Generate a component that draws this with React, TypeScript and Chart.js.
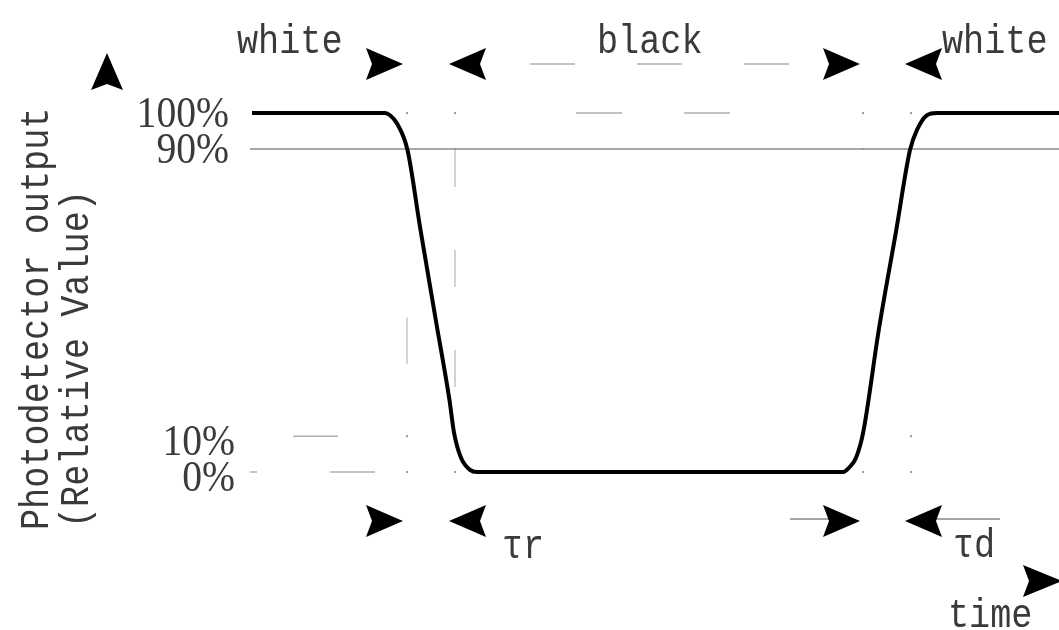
import React, { useEffect, useRef } from 'react';
import { Chart, registerables } from 'chart.js';

Chart.register(...registerables);

// time (arbitrary units) and photodetector output (% of white level)
const times = [0, 13.3, 13.8, 14.5, 15.55, 16.8, 18.4, 19.75, 20.2, 20.9, 21.8, 22.5, 59.1, 59.8, 60.4, 61.1, 62.7, 64.4, 65.8, 66.5, 67.5, 68.5, 80.7];
const output = [100, 100, 99.4, 97.1, 89.7, 68.3, 42, 20, 11, 4, 0.6, 0, 0, 1.5, 4, 10.8, 40, 67, 89.7, 95.3, 99.4, 100, 100];

const levelTicks = [100, 90, 10, 0];
const levelLabels = ['100%', '90%', '10%', '0%'];
const guideTimes = [15.5, 20.3, 61.1, 65.9];
const phaseLabels = ['white', 'black', 'white'];
const responseLabels = ['τr', 'τd'];
const axisTitle = ['Photodetector output', '(Relative Value)'];
const timeLabel = 'time';

const MONO = '40px "Liberation Mono", "DejaVu Sans Mono", monospace';
const SERIF = '44px "Liberation Serif", "DejaVu Serif", serif';
const TXT = '#3a3a3a';

function txt(ctx: CanvasRenderingContext2D, s: string, x: number, y: number, font: string, sx: number, align: CanvasTextAlign = 'left') {
  ctx.save();
  ctx.font = font;
  ctx.fillStyle = TXT;
  ctx.textAlign = align;
  ctx.textBaseline = 'alphabetic';
  ctx.translate(x, y);
  ctx.scale(sx, 1);
  ctx.fillText(s, 0, 0);
  ctx.restore();
}

function arrow(ctx: CanvasRenderingContext2D, tx: number, ty: number, angle: number, len = 37, half = 16) {
  ctx.save();
  ctx.translate(tx, ty);
  ctx.rotate(angle);
  ctx.beginPath();
  ctx.moveTo(0, 0);
  ctx.lineTo(-len, -half);
  ctx.lineTo(-len + 6, 0);
  ctx.lineTo(-len, half);
  ctx.closePath();
  ctx.fillStyle = '#000';
  ctx.fill();
  ctx.restore();
}

function hline(ctx: CanvasRenderingContext2D, x1: number, x2: number, y: number, color: string, w: number, dash: number[] = []) {
  ctx.save();
  ctx.strokeStyle = color;
  ctx.lineWidth = w;
  ctx.setLineDash(dash);
  ctx.beginPath();
  ctx.moveTo(x1, y);
  ctx.lineTo(x2, y);
  ctx.stroke();
  ctx.restore();
}

function vline(ctx: CanvasRenderingContext2D, x: number, y1: number, y2: number, color: string, w: number, dash: number[] = []) {
  ctx.save();
  ctx.strokeStyle = color;
  ctx.lineWidth = w;
  ctx.setLineDash(dash);
  ctx.beginPath();
  ctx.moveTo(x, y1);
  ctx.lineTo(x, y2);
  ctx.stroke();
  ctx.restore();
}

const diagramPlugin = {
  id: 'responseDiagram',
  beforeDatasetsDraw(chart: any) {
    const ctx: CanvasRenderingContext2D = chart.ctx;
    const xs = chart.scales.x;
    const ys = chart.scales.y;
    const x0 = xs.getPixelForValue(times[0]);
    const xEnd = chart.width;
    const g = guideTimes.map((t) => xs.getPixelForValue(t));
    const yp = (v: number) => ys.getPixelForValue(v);

    // 90% reference line
    hline(ctx, x0 - 2, xEnd, yp(90), '#8a8a8a', 1.5);

    // faint dashed guides
    vline(ctx, g[1], yp(90) + 1, yp(10), '#c4c4c4', 1.5, [37, 63]);
    vline(ctx, g[0], yp(43), yp(10), '#c4c4c4', 1.5, [46, 200]);
    hline(ctx, x0 + 41, g[0], yp(10), '#b0b0b0', 1.5, [45, 200]);
    hline(ctx, x0 - 2, g[0], yp(0), '#b0b0b0', 1.5, [7, 73, 45, 200]);
    hline(ctx, xs.getPixelForValue(32.4), xs.getPixelForValue(52.6), yp(100), '#b0b0b0', 1.5, [46, 62]);

    // guide dots
    ctx.save();
    ctx.fillStyle = '#999';
    g.forEach((gx) => {
      [100, 90, 10, 0].forEach((v) => {
        ctx.fillRect(gx - 1, yp(v) - 1, 2, 2);
      });
    });
    ctx.restore();
  },
  afterDatasetsDraw(chart: any) {
    const ctx: CanvasRenderingContext2D = chart.ctx;
    const xs = chart.scales.x;
    const ys = chart.scales.y;
    const x0 = xs.getPixelForValue(times[0]);
    const g = guideTimes.map((t) => xs.getPixelForValue(t));
    const yp = (v: number) => ys.getPixelForValue(v);

    // level tick labels
    levelTicks.forEach((v, i) => {
      const low = v < 50;
      txt(ctx, levelLabels[i], x0 - 23 + (low ? 6 : 0), yp(v) + 14 + (low ? 5 : 0), SERIF, 0.9, 'right');
    });

    // y axis arrow and title
    arrow(ctx, 107, 53, -Math.PI / 2, 37, 16);
    ctx.save();
    ctx.font = MONO;
    ctx.fillStyle = TXT;
    ctx.textBaseline = 'alphabetic';
    ctx.textAlign = 'left';
    ctx.translate(48, 530);
    ctx.rotate(-Math.PI / 2);
    ctx.scale(0.88, 1);
    ctx.fillText(axisTitle[0], 0, 0);
    ctx.restore();
    ctx.save();
    ctx.font = MONO;
    ctx.fillStyle = TXT;
    ctx.textBaseline = 'alphabetic';
    ctx.textAlign = 'left';
    ctx.translate(88, 528);
    ctx.rotate(-Math.PI / 2);
    ctx.scale(0.88, 1);
    ctx.fillText(axisTitle[1], 0, 0);
    ctx.restore();

    // top phase labels & arrows
    const topY = 64;
    txt(ctx, phaseLabels[0], x0 - 15, 53, MONO, 0.88);
    txt(ctx, phaseLabels[1], (g[1] + g[2]) / 2 - 62, 53, MONO, 0.88);
    txt(ctx, phaseLabels[2], g[3] + 31, 53, MONO, 0.88);
    hline(ctx, g[1] + 75, g[2] - 40, topY, '#b0b0b0', 1.5, [45, 62]);
    arrow(ctx, g[0] - 4, topY, 0);
    arrow(ctx, g[1] - 6, topY, Math.PI);
    arrow(ctx, g[2] - 3, topY, 0);
    arrow(ctx, g[3] - 6, topY, Math.PI);

    // bottom response-time arrows
    const botY = 521;
    hline(ctx, g[2] - 73, g[2] - 30, botY - 2, '#888', 1.5);
    hline(ctx, g[3] + 25, g[3] + 89, botY - 2, '#888', 1.5);
    arrow(ctx, g[0] - 4, botY, 0);
    arrow(ctx, g[1] - 6, botY, Math.PI);
    arrow(ctx, g[2] - 3, botY, 0);
    arrow(ctx, g[3] - 6, botY, Math.PI);
    txt(ctx, responseLabels[0], g[1] + 47, 558, MONO, 0.88);
    txt(ctx, responseLabels[1], g[3] + 42, 557, MONO, 0.88);

    // time axis arrow and label
    arrow(ctx, chart.width + 3, 581, 0, 39, 16);
    txt(ctx, timeLabel, 948, 627, MONO, 0.88);
  },
};

export default function App() {
  const ref = useRef<HTMLCanvasElement>(null);
  useEffect(() => {
    if (!ref.current) return;
    const chart = new Chart(ref.current, {
      type: 'line',
      data: {
        datasets: [
          {
            data: times.map((t, i) => ({ x: t, y: output[i] })),
            borderColor: '#000',
            borderWidth: 4,
            pointRadius: 0,
            fill: false,
            cubicInterpolationMode: 'monotone',
            clip: false as any,
          },
        ],
      },
      options: {
        animation: false,
        responsive: false,
        layout: { padding: 0 },
        plugins: { legend: { display: false }, tooltip: { enabled: false }, title: { display: false } },
        scales: {
          x: { type: 'linear', min: -25.2, max: 80.7, display: false },
          y: { type: 'linear', min: -44, max: 131.5, display: false },
        },
      },
      plugins: [diagramPlugin],
    });
    return () => chart.destroy();
  }, []);
  return (
    <div style={{ position: 'absolute', left: 0, top: 0, width: 1059, height: 630, background: '#fff' }}>
      <canvas ref={ref} width={1059} height={630} style={{ display: 'block' }} />
    </div>
  );
}
